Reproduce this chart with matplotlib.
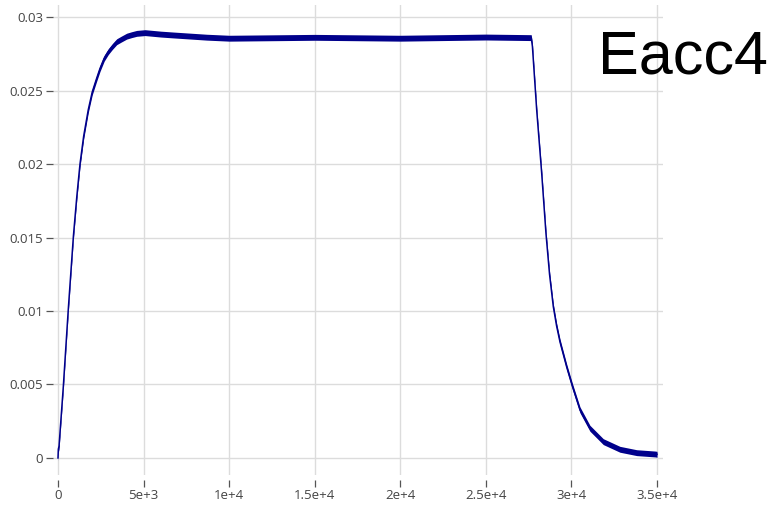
import matplotlib.pyplot as plt

plt.rcParams['font.family'] = ['Open Sans', 'DejaVu Sans']

# --- data ---
t = [0, 20, 60, 310, 600, 900, 1100, 1285, 1500, 1770, 2000, 2250, 2454,
     2700, 2940, 3180, 3430, 3700, 4014, 4300, 4600, 5085, 6000, 6740, 8690,
     10000, 15000, 20000, 25000, 27650, 27720, 27970, 28260, 28510, 28720,
     28940, 29130, 29330, 29720, 30050, 30500, 31080, 31860, 32830, 33810,
     34880, 35000]
eacc4 = [0.0000, 0.0006, 0.0008, 0.00485, 0.0101, 0.0151, 0.0178, 0.0200,
         0.0219, 0.0237, 0.0249, 0.0258, 0.0265, 0.0272, 0.02765, 0.0280,
         0.02832, 0.0285, 0.0287, 0.0288, 0.02889, 0.02894, 0.02884, 0.02878,
         0.02863, 0.02856, 0.02862, 0.02856, 0.02864, 0.0286, 0.0280,
         0.02367, 0.0194, 0.0153, 0.0125, 0.0103, 0.0090, 0.0079, 0.0062,
         0.0049, 0.00327, 0.00202, 0.00111, 0.00059, 0.00036, 0.00027,
         0.00025]
noise = 0.0002  # half-width of the noisy band

x_ticks = [0, 5000, 10000, 15000, 20000, 25000, 30000, 35000]
x_labels = ["0", "5e+3", "1e+4", "1.5e+4", "2e+4", "2.5e+4", "3e+4", "3.5e+4"]
y_ticks = [0, 0.005, 0.01, 0.015, 0.02, 0.025, 0.03]
y_labels = ["0", "0.005", "0.01", "0.015", "0.02", "0.025", "0.03"]

W, H = 784, 512
fig = plt.figure(figsize=(W / 100, H / 100), dpi=100)
ax = fig.add_axes([53 / W, 1 - 475 / H, (663 - 53) / W, (475 - 5) / H])

lo = [v - noise for v in eacc4]
hi = [v + noise for v in eacc4]
ax.fill_between(t, lo, hi, color="#00008b", lw=0, zorder=3)
ax.plot(t, eacc4, color="#00008b", lw=1.1, zorder=4)

ax.set_xlim(-292, 35350)
ax.set_ylim(-0.00116, 0.03082)

ax.set_xticks(x_ticks)
ax.set_xticklabels(x_labels)
ax.set_yticks(y_ticks)
ax.set_yticklabels(y_labels)

for s in ax.spines.values():
    s.set_visible(False)
ax.spines["bottom"].set_position(("outward", 3.6))

ax.tick_params(axis="both", direction="out", length=5, width=0.9,
               color="#555555", labelcolor="#444444", labelsize=9.5)
ax.tick_params(axis="x", pad=1.5)
ax.tick_params(axis="y", pad=2)

ax.grid(True, color="#dcdcdc", lw=1.0, zorder=0)
ax.set_axisbelow(True)

fig.text(598 / W, 1 - 73 / H, "Eacc4", fontsize=44, color="black",
         family=["Liberation Sans", "DejaVu Sans"], ha="left", va="baseline")

fig.savefig("out.png", dpi=100)
